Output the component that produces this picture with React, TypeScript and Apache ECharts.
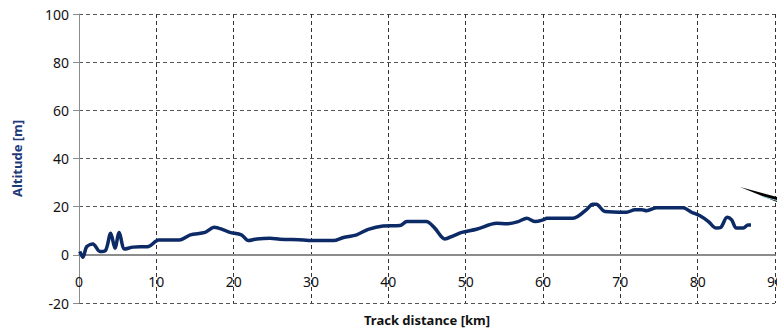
import React, { useEffect, useRef } from "react";
import * as echarts from "echarts";

const distanceKm: number[] = [
  0.1, 0.5, 1.0, 1.8, 2.7, 3.4, 4.1, 4.65, 5.2, 5.9, 7.0, 9.0, 10.3, 13.0, 14.4, 16.3,
  17.5, 18.7, 19.5, 21.0, 21.9, 23.0, 24.7, 26.0, 29.0, 29.9, 32.9, 34.2, 35.9, 37.4,
  39.3, 41.5, 42.4, 44.9, 46.0, 47.3, 48.4, 49.5, 51.4, 54.0, 55.3, 56.8, 57.9, 59.0,
  60.0, 60.5, 63.9, 65.7, 66.4, 66.9, 68.0, 70.8, 71.9, 72.8, 73.4, 74.7, 78.1, 79.2,
  80.3, 81.4, 82.4, 83.0, 83.8, 84.4, 85.0, 85.9, 86.5, 86.9,
];
const altitudeM: number[] = [
  1.4, -1, 3.4, 4.5, 1.4, 1.7, 9, 2.8, 9.3, 2.4, 3.2, 3.5, 6.2, 6.2, 8.3, 9.3,
  11.5, 10.4, 9.3, 8.3, 5.9, 6.6, 6.9, 6.5, 6.2, 5.9, 5.9, 7.2, 8.3, 10.6,
  12.0, 12.2, 13.8, 13.8, 11.1, 6.6, 7.9, 9.3, 10.6, 13.1, 12.9, 13.8, 15.2, 13.8,
  14.5, 15.2, 15.2, 19, 21, 21, 18, 17.7, 18.7, 18.7, 18.3, 19.6, 19.6, 17.7,
  16.2, 13.8, 11.1, 11.4, 15.6, 14.5, 11.1, 11.1, 12.4, 12.4,
];
const xAxisTitle = "Track distance [km]";
const yAxisTitle = "Altitude [m]";

const FONT = "'Noto Sans', sans-serif";

export default function App() {
  const ref = useRef<HTMLDivElement>(null);
  useEffect(() => {
    if (!ref.current) return;
    const chart = echarts.init(ref.current, undefined, { renderer: "svg" });
    const data = distanceKm.map((d, i) => [d, altitudeM[i]]);
    chart.setOption({
      animation: false,
      backgroundColor: "#ffffff",
      grid: { left: 79, right: 2, top: 14, bottom: 29, containLabel: false, outerBoundsMode: "none" },
      xAxis: {
        type: "value",
        min: 0,
        max: 90,
        interval: 10,
        offset: -48,
        name: xAxisTitle,
        nameLocation: "middle",
        nameGap: 58,
        nameTextStyle: { fontFamily: FONT, fontSize: 13, fontWeight: "bold", color: "#111" },
        axisLine: { onZero: false, lineStyle: { color: "#8c8c8c", width: 2 } },
        axisTick: { show: false },
        axisLabel: { fontFamily: FONT, fontSize: 14, color: "#111", margin: 19 },
        splitLine: { show: true, lineStyle: { color: "#333", type: [4, 3], width: 1 } },
      },
      yAxis: {
        type: "value",
        min: -20,
        max: 100,
        interval: 20,
        name: yAxisTitle,
        nameLocation: "middle",
        nameGap: 56,
        nameTextStyle: { fontFamily: FONT, fontSize: 13, fontWeight: "bold", color: "#1f3a78" },
        axisLine: { show: true, onZero: false, lineStyle: { color: "#8c8c8c", width: 1 } },
        axisTick: { show: true, length: 6, lineStyle: { color: "#8c8c8c" } },
        axisLabel: { fontFamily: FONT, fontSize: 14, color: "#111", margin: 10 },
        splitLine: { show: true, lineStyle: { color: "#555", type: [4, 3], width: 1 } },
      },
      graphic: [
        {
          type: "polygon",
          shape: { points: [[740, 187], [777, 197], [777, 202]] },
          style: { fill: "#000" },
          z: 100,
        },
        {
          type: "line",
          shape: { x1: 762, y1: 196.5, x2: 777, y2: 200.5 },
          style: { stroke: "#9fd3e6", lineWidth: 1 },
          z: 101,
        },
      ],
      series: [
        {
          type: "line",
          data,
          showSymbol: false,
          smooth: 0.3,
          lineStyle: { color: "#0b2a66", width: 3.5 },
          itemStyle: { color: "#0b2a66" },
        },
      ],
    });
    return () => chart.dispose();
  }, []);
  return <div ref={ref} style={{ width: 777, height: 332, position: "absolute", left: 0, top: 0 }} />;
}
